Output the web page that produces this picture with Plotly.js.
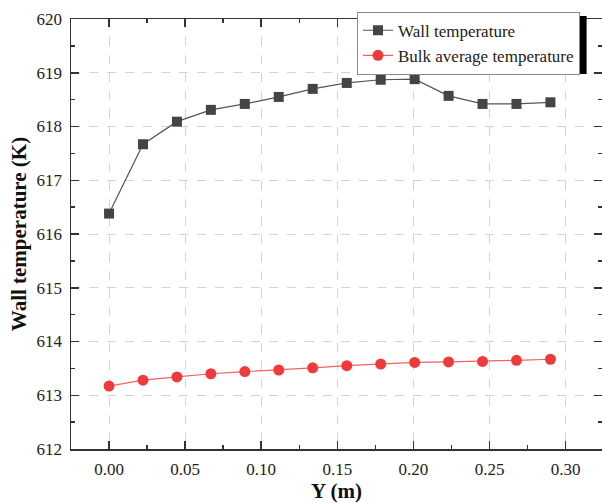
<!DOCTYPE html>
<html>
<head>
<meta charset="utf-8">
<script src="https://cdn.plot.ly/plotly-3.0.1.min.js"></script>
<style>html,body{margin:0;padding:0;background:#fff;}#chart{width:602px;height:503px;}</style>
</head>
<body>
<div id="chart"></div>
<script>
const positionY = [0, 0.0223, 0.0446, 0.0669, 0.0892, 0.1115, 0.1338, 0.1562, 0.1785, 0.2008, 0.2231, 0.2454, 0.2677, 0.29];
const wallTemperature = [616.38, 617.67, 618.09, 618.31, 618.42, 618.55, 618.70, 618.81, 618.87, 618.88, 618.57, 618.42, 618.42, 618.45];
const bulkTemperature = [613.17, 613.28, 613.34, 613.40, 613.44, 613.47, 613.51, 613.55, 613.58, 613.61, 613.62, 613.63, 613.65, 613.67];
const seriesNames = ['Wall temperature', 'Bulk average temperature'];
const xTickVals = [0, 0.05, 0.10, 0.15, 0.20, 0.25, 0.30];
const xTickText = ['0.00', '0.05', '0.10', '0.15', '0.20', '0.25', '0.30'];
const yTickVals = [612, 613, 614, 615, 616, 617, 618, 619, 620];

const font = 'Liberation Serif, Times New Roman, serif';
const axisCommon = {
  showline: true, linecolor: '#333', linewidth: 1.5, mirror: 'ticks',
  ticks: 'inside', ticklen: 8, tickwidth: 1.5, tickcolor: '#333',
  showgrid: true, gridcolor: '#d4d4d4', griddash: 'dash', gridwidth: 1,
  zeroline: false,
  tickfont: {family: font, size: 17, color: '#222'},
  ticklabelstandoff: 4
};

const traces = [
  {x: positionY, y: wallTemperature, name: seriesNames[0], mode: 'lines+markers', type: 'scatter',
   line: {color: '#555', width: 1.2},
   marker: {symbol: 'square', size: 10, color: '#444', line: {width: 0}}},
  {x: positionY, y: bulkTemperature, name: seriesNames[1], mode: 'lines+markers', type: 'scatter',
   line: {color: '#f36060', width: 1.2},
   marker: {symbol: 'circle', size: 11, color: '#ee3a3a', line: {width: 0}}}
];

const layout = {
  width: 602, height: 503,
  margin: {l: 71, r: 0, t: 19, b: 54, pad: 0},
  paper_bgcolor: '#fff', plot_bgcolor: '#fff',
  showlegend: true,
  legend: {x: 0.5386, y: 1.017, xanchor: 'left', yanchor: 'top',
    bgcolor: '#fff', bordercolor: '#888', borderwidth: 1,
    font: {family: font, size: 17, color: '#222'}, tracegroupgap: 0, itemwidth: 30},
  xaxis: Object.assign({}, axisCommon, {
    range: [-0.025, 0.3239], tickvals: xTickVals, ticktext: xTickText,
    minor: {ticks: 'inside', ticklen: 4, tickwidth: 1.5, tickcolor: '#333', dtick: 0.025, tick0: 0, showgrid: false},
    title: {text: '<b>Y (m)</b>', font: {family: font, size: 21, color: '#111'}, standoff: 4}
  }),
  yaxis: Object.assign({}, axisCommon, {
    range: [612, 620], tickvals: yTickVals,
    minor: {ticks: 'inside', ticklen: 4, tickwidth: 1.5, tickcolor: '#333', dtick: 0.5, tick0: 612, showgrid: false},
    title: {text: '<b>Wall temperature (K)</b>', font: {family: font, size: 21, color: '#111'}, standoff: 4}
  }),
  shapes: [
    {type: 'rect', xref: 'paper', yref: 'paper', x0: 0.55, x1: 0.971, y0: 0.872, y1: 1.007,
     fillcolor: '#000', line: {width: 0}, layer: 'above'}
  ]
};

Plotly.newPlot('chart', traces, layout, {staticPlot: true, displayModeBar: false});
</script>
</body>
</html>
